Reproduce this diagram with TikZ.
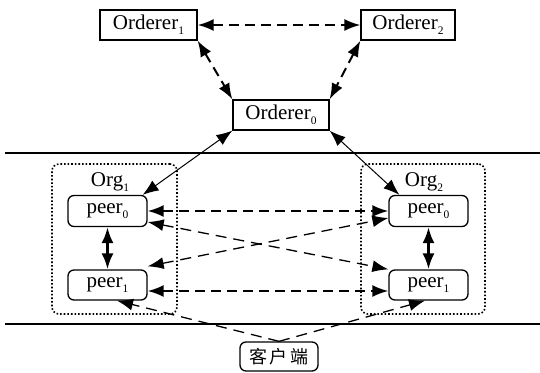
\documentclass[tikz,border=0pt]{standalone}
\usepackage{fontspec}
\setmainfont{Liberation Serif}
\newfontfamily\cjk{Noto Sans CJK SC}
\usetikzlibrary{arrows.meta}
\newcommand\subx[1]{\raisebox{-0.22em}{\fontsize{11.5}{12}\selectfont #1}}
\tikzset{
  box/.style={draw, line width=1.3pt, fill=white, inner sep=0pt, minimum height=30pt,
    font=\fontsize{21}{24}\selectfont},
  peerbox/.style={box, rounded corners=6pt, minimum width=79pt},
  orgbox/.style={draw, dotted, line width=1.6pt, rounded corners=7pt, inner sep=0pt},
  tip/.style={-{Latex[length=16pt,width=12pt]}},
  biarrow/.style={{Latex[length=16pt,width=12pt]}-{Latex[length=16pt,width=12pt]}},
  thickdash/.style={biarrow, line width=2pt, dash pattern=on 10pt off 6pt},
  thindash/.style={line width=1.3pt, dash pattern=on 11pt off 7pt},
  solidlink/.style={biarrow, line width=1pt},
  vlink/.style={biarrow, line width=2.6pt},
  sep/.style={line width=1.5pt}
}
\begin{document}
\begin{tikzpicture}[x=1pt,y=-1pt]
\useasboundingbox (0,0) rectangle (540,372);
% separators
\coordinate (s1a) at (5,153); \coordinate (s1b) at (540,153);
\coordinate (s2a) at (5,324); \coordinate (s2b) at (540,324);
\draw[sep] (s1a) -- (s1b);
\draw[sep] (s2a) -- (s2b);
% orgs
\node[orgbox, minimum width=125pt, minimum height=150pt] (org1) at (114.5,239) {};
\node[orgbox, minimum width=124pt, minimum height=150pt] (org2) at (423,239) {};
\node[font=\fontsize{21}{24}\selectfont, inner sep=0pt] (org1l) at (110,182) {Org\subx{1}};
\node[font=\fontsize{21}{24}\selectfont, inner sep=0pt] (org2l) at (424,182) {Org\subx{2}};
% orderers
\node[box, minimum width=97pt] (o1) at (148.5,25) {Orderer\subx{1}};
\node[box, minimum width=94pt] (o2) at (408,25) {Orderer\subx{2}};
\node[box, minimum width=96pt] (o0) at (281,115) {Orderer\subx{0}};
% peers
\node[peerbox, minimum height=31pt] (lp0) at (107.5,211) {peer\subx{0}};
\node[peerbox] (lp1) at (107.5,285) {peer\subx{1}};
\node[peerbox, minimum height=31pt] (rp0) at (428.5,211) {peer\subx{0}};
\node[peerbox] (rp1) at (428.5,285) {peer\subx{1}};
% client
\node[box, rounded corners=6pt, minimum width=78pt, minimum height=29pt, font=\cjk\fontsize{18}{20}\selectfont] (cl) at (279,356.5) {客\hspace{3pt}户\hspace{3pt}端};
% orderer links
\draw[thickdash] (o1.east) -- (o2.west);
\draw[thickdash] (o1.south east) -- (o0.north west);
\draw[thickdash] (o2.south west) -- (o0.north east);
% orderer to peers
\draw[solidlink] (o0.south west) -- ([xshift=-5pt]lp0.north east);
\draw[solidlink] (o0.south east) -- ([xshift=11pt]rp0.north west);
% peer horizontal
\draw[thickdash] (lp0.east) -- (rp0.west);
\draw[thickdash] ([yshift=-6pt]lp1.east) -- ([yshift=-6pt]rp1.west);
% crossing
\draw[thindash, biarrow] ([yshift=-11pt]lp0.east) -- (rp1.north west);
\draw[thindash, biarrow] ([yshift=3pt]lp1.north east) -- ([yshift=-7pt]rp0.west);
% vertical
\draw[vlink] (lp0.south) -- (lp1.north);
\draw[vlink] (rp0.south) -- (rp1.north);
% client
\draw[thindash, tip] (cl.north) -- ([xshift=9.5pt]lp1.south);
\draw[thindash, tip] (cl.north) -- ([xshift=-3.5pt]rp1.south);
\end{tikzpicture}
\end{document}
